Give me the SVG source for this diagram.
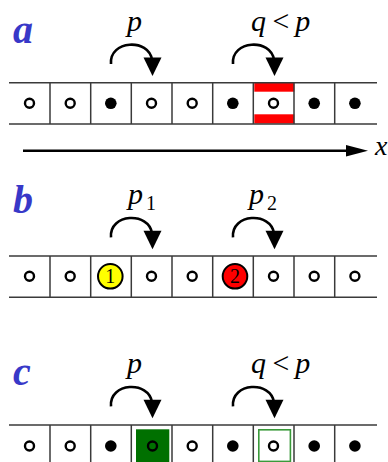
<svg xmlns="http://www.w3.org/2000/svg" width="388" height="462" viewBox="0 0 388 462">
<style>
.grid{stroke:#3a3a3a;stroke-width:1.5;fill:none}
.arc{stroke:#000;stroke-width:2.6;fill:none}
.head{fill:#000}
.emp{fill:#fff;stroke:#000;stroke-width:2.4}
.occ{fill:#000}
.lab{font-family:"Liberation Serif",serif;font-style:italic;font-weight:bold;font-size:40px;fill:#3838c8}
.rate{font-family:"Liberation Serif",serif;font-style:italic;font-size:30px;fill:#000}
.sub{font-family:"Liberation Serif",serif;font-size:20px;fill:#000}
.num{font-family:"Liberation Serif",serif;font-size:20px;fill:#000}
</style>
<defs>
<g id="lattice">
<line class="grid" x1="9" y1="82.7" x2="377" y2="82.7"/>
<line class="grid" x1="9" y1="124" x2="377" y2="124"/>
<line class="grid" x1="50" y1="82.7" x2="50" y2="124"/>
<line class="grid" x1="90.7" y1="82.7" x2="90.7" y2="124"/>
<line class="grid" x1="131.3" y1="82.7" x2="131.3" y2="124"/>
<line class="grid" x1="172" y1="82.7" x2="172" y2="124"/>
<line class="grid" x1="212.7" y1="82.7" x2="212.7" y2="124"/>
<line class="grid" x1="253.3" y1="82.7" x2="253.3" y2="124"/>
<line class="grid" x1="294" y1="82.7" x2="294" y2="124"/>
<line class="grid" x1="334.7" y1="82.7" x2="334.7" y2="124"/>
</g>
<g id="hops">
<path class="arc" d="M111,64 C109,40 149,38 152,60"/>
<polygon class="head" points="143.5,57.5 161.5,57.5 152.5,76"/>
<path class="arc" d="M233,64 C231,40 271,38 274,60"/>
<polygon class="head" points="265.5,57.5 283.5,57.5 274.5,76"/>
</g>
</defs>

<!-- Panel a -->
<g id="panel-a">
<text class="lab" x="13" y="43">a</text>
<text class="rate" x="127" y="31">p</text>
<text class="rate" x="251" y="31" word-spacing="-3">q &lt; p</text>
<rect x="254.3" y="82.7" width="40" height="9" fill="#ff0000"/>
<rect x="254.3" y="114.3" width="40" height="9.2" fill="#ff0000"/>
<use href="#lattice"/>
<g id="sites-a">
<circle class="emp" cx="29.5" cy="103.3" r="4.5"/>
<circle class="emp" cx="70.2" cy="103.3" r="4.5"/>
<circle class="occ" cx="110.8" cy="103.3" r="5.8"/>
<circle class="emp" cx="151.5" cy="103.3" r="4.5"/>
<circle class="emp" cx="192.2" cy="103.3" r="4.5"/>
<circle class="occ" cx="232.8" cy="103.3" r="5.8"/>
<circle class="emp" cx="273.5" cy="103.3" r="4.5"/>
<circle class="occ" cx="314.2" cy="103.3" r="5.8"/>
<circle class="occ" cx="354.9" cy="103.3" r="5.8"/>
</g>
<g id="connectors-a"><use href="#hops"/></g>
<g id="x-axis">
<line x1="23" y1="150.7" x2="350" y2="150.7" stroke="#000" stroke-width="2.5"/>
<polygon class="head" points="346,145 368,150.7 346,156.4"/>
<text class="rate" x="375" y="155" style="font-size:28px">x</text>
</g>
</g>

<!-- Panel b -->
<g id="panel-b">
<text class="lab" x="13" y="213">b</text>
<text class="rate" x="128" y="204">p</text>
<text class="sub" x="146" y="210">1</text>
<text class="rate" x="249" y="204">p</text>
<text class="sub" x="267" y="210">2</text>
<g transform="translate(0,173.3)">
<use href="#lattice"/>
<g id="connectors-b"><use href="#hops"/></g>
</g>
<g id="sites-b">
<circle class="emp" cx="29.5" cy="276.3" r="4.5"/>
<circle class="emp" cx="70.2" cy="276.3" r="4.5"/>
<g id="particle-1">
<circle cx="110.3" cy="276.3" r="12.3" fill="#ffff00" stroke="#000" stroke-width="2"/>
<text class="num" x="110.3" y="283" text-anchor="middle">1</text>
</g>
<circle class="emp" cx="151.5" cy="276.3" r="4.5"/>
<circle class="emp" cx="192.2" cy="276.3" r="4.5"/>
<g id="particle-2">
<circle cx="235" cy="276.3" r="12.3" fill="#ff0000" stroke="#000" stroke-width="2"/>
<text class="num" x="235" y="283" text-anchor="middle">2</text>
</g>
<circle class="emp" cx="273.5" cy="276.3" r="4.5"/>
<circle class="emp" cx="314.2" cy="276.3" r="4.5"/>
<circle class="emp" cx="354.9" cy="276.3" r="4.5"/>
</g>
</g>

<!-- Panel c -->
<g id="panel-c">
<text class="lab" x="13" y="385">c</text>
<text class="rate" x="127" y="373">p</text>
<text class="rate" x="251" y="373" word-spacing="-3">q &lt; p</text>
<rect x="136" y="429.3" width="33.3" height="33.7" fill="#007000"/>
<g transform="translate(0,342.3)">
<use href="#lattice"/>
<g id="connectors-c"><use href="#hops"/></g>
</g>
<rect x="258.8" y="429.8" width="31.6" height="31.6" fill="none" stroke="#3a9a3a" stroke-width="1.6"/>
<g id="sites-c">
<circle class="emp" cx="29.5" cy="446" r="4.5"/>
<circle class="emp" cx="70.2" cy="446" r="4.5"/>
<circle class="occ" cx="110.8" cy="446" r="5.8"/>
<circle cx="152.5" cy="446" r="4.5" fill="none" stroke="#000" stroke-width="2.4"/>
<circle class="emp" cx="192.2" cy="446" r="4.5"/>
<circle class="occ" cx="232.8" cy="446" r="5.8"/>
<circle class="emp" cx="273.5" cy="446" r="4.5"/>
<circle class="occ" cx="314.2" cy="446" r="5.8"/>
<circle class="occ" cx="354.9" cy="446" r="5.8"/>
</g>
</g>
</svg>
